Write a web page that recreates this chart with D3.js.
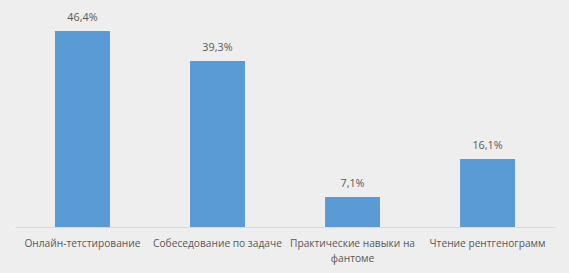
<!DOCTYPE html>
<html>
<head>
<meta charset="utf-8">
<script src="https://cdn.jsdelivr.net/npm/d3@7"></script>
<style>
  html, body { margin: 0; padding: 0; background: #eeeeee; }
  svg text { font-family: "Open Sans", "Liberation Sans", sans-serif; fill: #595959; }
</style>
</head>
<body>
<svg id="chart" width="569" height="273"></svg>
<script>
const categories = [
  'Онлайн-тетстирование',
  'Собеседование по задаче',
  'Практические навыки на\nфантоме',
  'Чтение рентгенограмм'
]
const values = [46.4, 39.3, 7.1, 16.1]

const width = 569
const height = 273
const margin = { top: 31, right: 14, bottom: 46, left: 15 }
const innerW = width - margin.left - margin.right
const innerH = height - margin.top - margin.bottom

const svg = d3.select('#chart')
svg.append('rect').attr('width', width).attr('height', height).attr('fill', '#eeeeee')

const g = svg.append('g').attr('transform', `translate(${margin.left},${margin.top})`)

const x = d3.scaleBand().domain(categories).range([0, innerW]).paddingInner(0.593).paddingOuter(0.296)
const y = d3.scaleLinear().domain([0, 46.4]).range([innerH, 0])

const fmt = (v) => d3.format('.1f')(v).replace('.', ',') + '%'

g.selectAll('rect.bar')
  .data(values)
  .join('rect')
  .attr('class', 'bar')
  .attr('x', (d, i) => x(categories[i]))
  .attr('y', (d) => y(d))
  .attr('width', x.bandwidth())
  .attr('height', (d) => innerH - y(d))
  .attr('fill', '#5b9bd5')

g.selectAll('text.val')
  .data(values)
  .join('text')
  .attr('class', 'val')
  .attr('x', (d, i) => x(categories[i]) + x.bandwidth() / 2)
  .attr('y', (d) => y(d) - 10)
  .attr('text-anchor', 'middle')
  .style('font-size', '10.8px')
  .text(fmt)

// axis line
const xAxis = g.append('g').attr('transform', `translate(0,${innerH})`)
  .call(d3.axisBottom(x).tickSize(0).tickPadding(0).tickFormat(''))
xAxis.select('.domain').attr('stroke', '#d9d9d9')

const labels = g.selectAll('text.cat')
  .data(categories)
  .join('text')
  .attr('class', 'cat')
  .attr('x', (d) => x(d) + x.bandwidth() / 2)
  .attr('y', innerH + 20)
  .attr('text-anchor', 'middle')
  .style('font-size', '10.2px')

labels.each(function (d) {
  const lines = d.split('\n')
  const t = d3.select(this)
  lines.forEach((line, i) => {
    t.append('tspan')
      .attr('x', x(d) + x.bandwidth() / 2)
      .attr('dy', i === 0 ? 0 : 15)
      .text(line)
  })
})
</script>
</body>
</html>
